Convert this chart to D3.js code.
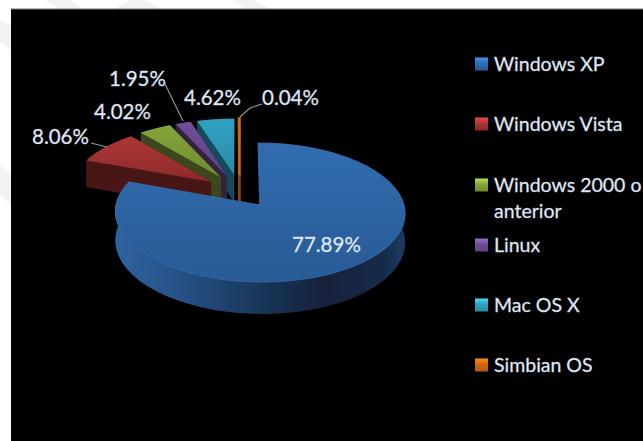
<!DOCTYPE html>
<html>
<head>
<meta charset="utf-8">
<script src="https://cdn.jsdelivr.net/npm/d3@7"></script>
<style>
html, body { margin: 0; padding: 0; background: #fff; overflow: hidden; }
svg { display: block; }
text { font-family: Lato, "Open Sans", sans-serif; fill: #e2ebf6; stroke: #c9d8ea; stroke-width: 0.3; }
</style>
</head>
<body>
<svg id="drawing_region"></svg>
<script>
// values (they add up to 96.58, the pie normalises them)
const categories = ['Windows XP', 'Windows Vista', 'Windows 2000 o', 'Linux', 'Mac OS X', 'Simbian OS'];
const shares = [77.89, 8.06, 4.02, 1.95, 4.62, 0.04];
const shareLabels = ['77.89%', '8.06%', '4.02%', '1.95%', '4.62%', '0.04%'];

// styles
const topLight = ['#306db0', '#ad3636', '#84a53a', '#704e97', '#30a2c1', '#d0670f'];
const topDark = ['#2a5a96', '#8e2a2a', '#6f8c30', '#5f4080', '#2a8ba6', '#b85a0c'];
const wallColor = ['#1d3f6b', '#4a1412', '#3a461b', '#31213f', '#124a5c', '#8a4508'];

const width = 643, height = 441;
const svg = d3.select('#drawing_region').attr('width', width).attr('height', height);

// 3d pie set up: unit circle seen in perspective, each slice pulled out of the centre
const explode = 0.25, persp = 0.105, depth = 28;
const xscale = d3.scaleLinear().domain([-1, 1]).range([239.4 - 141, 239.4 + 141]);
const yscale = d3.scaleLinear().domain([-1, 1]).range([191.2 - 65.8, 191.2 + 65.8]);

function project(px, py, down) {
    const w = 1 - persp * py;
    return [xscale(px / w), yscale(py / w) + (down ? depth / w : 0)];
}

const pie = d3.pie().sort(null).value(d => d);
const arcs = pie(shares);
const line = d3.line();

function rimPoints(a, down) {
    const mid = (a.startAngle + a.endAngle) / 2;
    const ox = explode * Math.sin(mid), oy = -explode * Math.cos(mid);
    const steps = d3.range(0, 61).map(i => a.startAngle + (a.endAngle - a.startAngle) * i / 60);
    return {
        apex: project(ox, oy, down),
        rim: steps.map(t => project(ox + Math.sin(t), oy - Math.cos(t), down))
    };
}

const defs = svg.append('defs');
defs.append('filter').attr('id', 'soft')
    .attr('x', '-5%').attr('y', '-5%').attr('width', '110%').attr('height', '110%')
    .append('feGaussianBlur').attr('stdDeviation', 0.45);

topLight.forEach((c, i) => {
    const g = defs.append('linearGradient').attr('id', 'top' + i)
        .attr('x1', 0).attr('y1', 0).attr('x2', 0).attr('y2', 1);
    g.append('stop').attr('offset', '0%').attr('stop-color', c);
    g.append('stop').attr('offset', '100%').attr('stop-color', topDark[i]);
    const s = defs.append('linearGradient').attr('id', 'key' + i)
        .attr('x1', 0).attr('y1', 0).attr('x2', 0).attr('y2', 1);
    s.append('stop').attr('offset', '0%').attr('stop-color', d3.rgb(c).brighter(0.9));
    s.append('stop').attr('offset', '45%').attr('stop-color', c);
    s.append('stop').attr('offset', '100%').attr('stop-color', topDark[i]);
});

const wallGrad = defs.append('linearGradient').attr('id', 'wall0')
    .attr('gradientUnits', 'userSpaceOnUse')
    .attr('x1', 116).attr('y1', 0).attr('x2', 404).attr('y2', 0);
[['0%', '#2f639f'], ['25%', '#254f83'], ['50%', '#193659'], ['72%', '#12233b'], ['92%', '#152a47'], ['100%', '#1c3a60']]
    .forEach(s => wallGrad.append('stop').attr('offset', s[0]).attr('stop-color', s[1]));

// faint watermark bands left on the white page
const bands = [
    [[45, 0], [70, 0], [82, 9], [60, 9]],
    [[115, 9], [130, 0], [145, 0], [160, 9]],
    [[235, 0], [255, 0], [270, 9], [245, 9]],
    [[0, 20], [11, 25], [11, 50], [0, 42]],
    [[0, 165], [11, 175], [11, 205], [0, 195]]
];
svg.selectAll('path.band').data(bands).enter().append('path')
    .attr('class', 'band')
    .attr('d', d => line(d) + 'Z')
    .attr('fill', '#f2f2f2');

// black plate over the white page
svg.append('rect').attr('x', 11).attr('y', 9).attr('width', width - 11).attr('height', height - 9).attr('fill', '#000');
svg.append('line').attr('x1', 11).attr('x2', width).attr('y1', 9).attr('y2', 9).attr('stroke', '#777').attr('stroke-width', 1);

const chart = svg.append('g').attr('filter', 'url(#soft)');

// back slices first, the big one last
d3.range(arcs.length).reverse().forEach(i => {
    const up = rimPoints(arcs[i], false), low = rimPoints(arcs[i], true);
    const g = chart.append('g');
    const thin = shares[i] < 0.5;
    const wall = i === 0 ? 'url(#wall0)' : wallColor[i];

    const walls = [
        up.rim.concat(low.rim.slice().reverse()),
        [up.apex, up.rim[0], low.rim[0], low.apex],
        [up.apex, up.rim[up.rim.length - 1], low.rim[low.rim.length - 1], low.apex]
    ];
    g.selectAll('path.wall').data(walls).enter().append('path')
        .attr('class', 'wall')
        .attr('d', d => line(d) + 'Z')
        .attr('fill', wall)
        .attr('stroke', thin ? wallColor[i] : 'none')
        .attr('stroke-width', thin ? 2.4 : 0);

    g.append('path')
        .attr('d', line([up.apex].concat(up.rim)) + 'Z')
        .attr('fill', `url(#top${i})`)
        .attr('stroke', thin ? topLight[i] : (i === 0 ? '#3a72b2' : 'none'))
        .attr('stroke-width', thin ? 2.4 : 0.8);
});

// leader lines
const leaders = [
    [[91, 143], [107, 147]],
    [[165, 84], [183, 121]],
    [[240, 117], [250, 108], [262, 104]]
];
svg.selectAll('path.leader').data(leaders).enter().append('path')
    .attr('class', 'leader')
    .attr('d', d => line(d))
    .attr('fill', 'none')
    .attr('stroke', '#9a9a9a')
    .attr('stroke-width', 1.1);

// slice labels
const labelPos = [[292, 252], [32, 144], [94, 119], [109, 86], [184, 105], [262, 105]];
svg.selectAll('text.share').data(shareLabels).enter().append('text')
    .attr('class', 'share')
    .attr('x', (d, i) => labelPos[i][0])
    .attr('y', (d, i) => labelPos[i][1])
    .attr('font-size', 20.5)
    .text(d => d);

// legend
const legendY = [64, 124, 185, 245, 305, 365];
const legend = svg.selectAll('g.legend').data(categories).enter().append('g')
    .attr('class', 'legend')
    .attr('transform', (d, i) => `translate(475, ${legendY[i]})`);
legend.append('rect')
    .attr('x', 0).attr('y', -6.5).attr('width', 13).attr('height', 13)
    .attr('fill', (d, i) => `url(#key${i})`);
legend.append('text')
    .attr('x', 19).attr('y', 7)
    .attr('font-size', 19.5)
    .text(d => d);
svg.append('text').attr('x', 494).attr('y', 218).attr('font-size', 19.5).text('anterior');
</script>
</body>
</html>
